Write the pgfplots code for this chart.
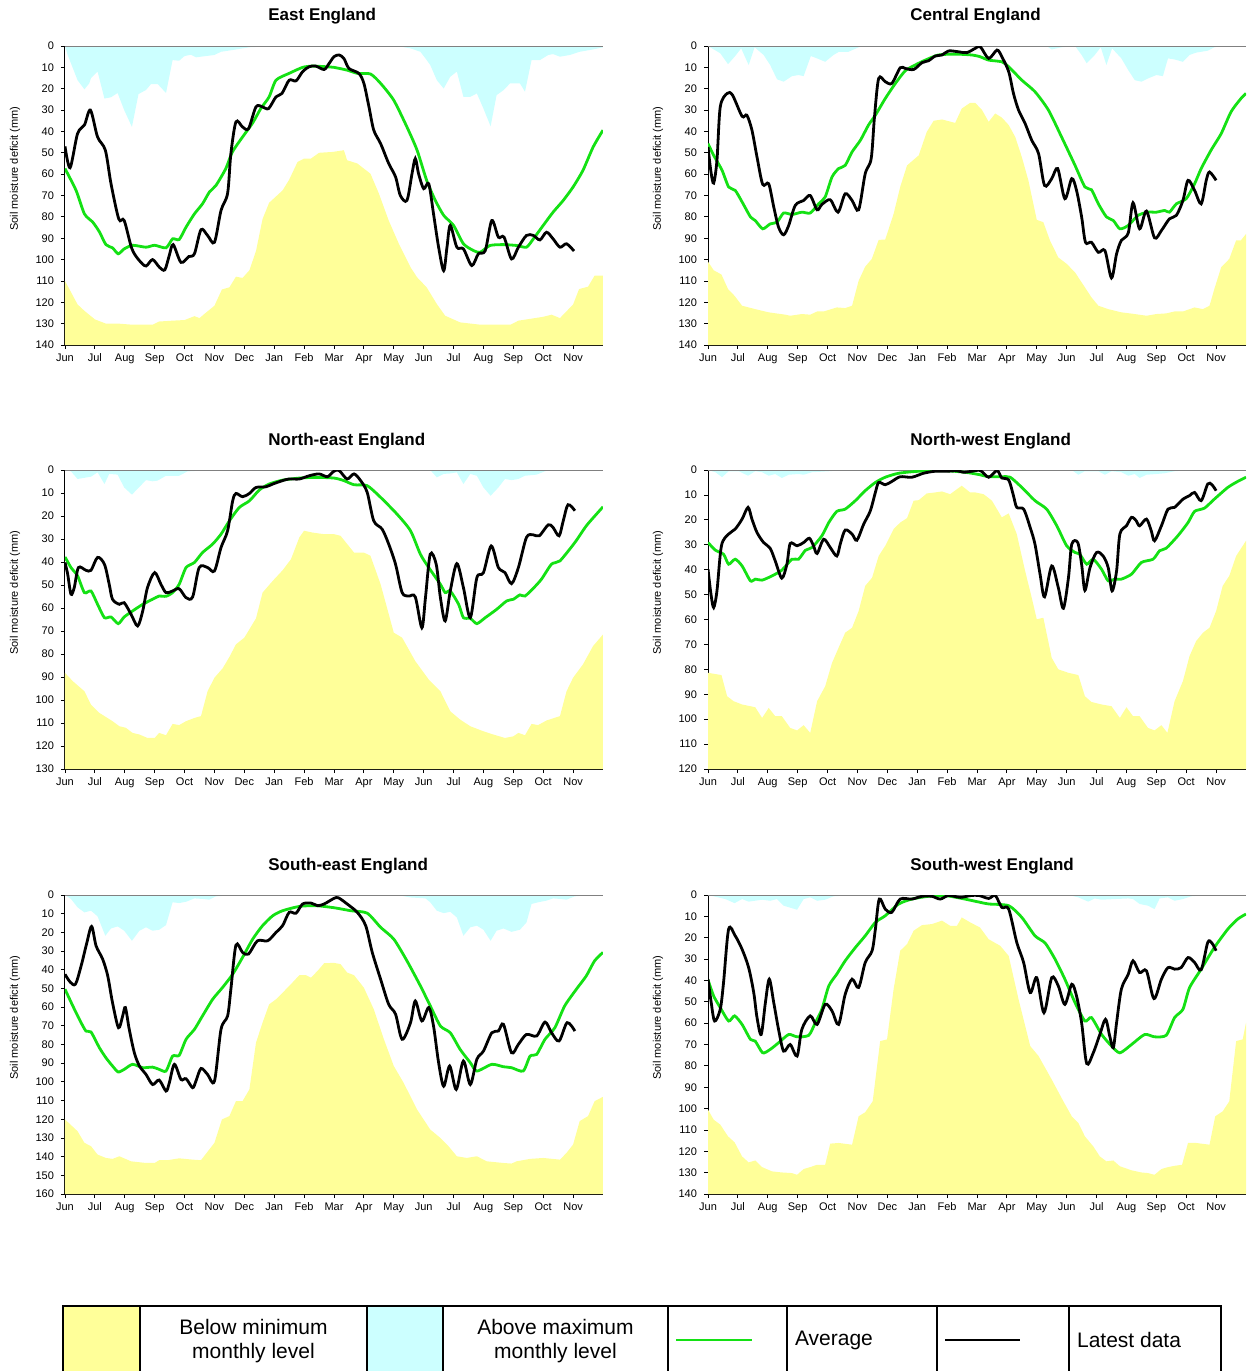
\documentclass[border=0pt]{standalone}
\usepackage{pgfplots}
\pgfplotsset{compat=1.18}
\usepackage{fontspec}
\setmainfont{Liberation Sans}
\setsansfont{Liberation Sans}
\definecolor{ymin}{RGB}{255,255,153}
\definecolor{cmax}{RGB}{204,255,255}
\definecolor{avg}{RGB}{20,225,20}
\pgfplotsset{
  smd/.style={
    scale only axis, width=269pt, height=149.5pt,
    xmin=0, xmax=18, ymin=0, y dir=reverse,
    ytick distance=10,
    xtick={0,...,17},
    xticklabels={Jun,Jul,Aug,Sep,Oct,Nov,Dec,Jan,Feb,Mar,Apr,May,Jun,Jul,Aug,Sep,Oct,Nov},
    axis x line*=bottom, axis y line*=left,
    axis line style={line width=0.5pt},
    tick align=outside, major tick length=2pt,
    tick style={black, line width=0.4pt},
    tick label style={font=\fontsize{5.5}{6}\selectfont},
    xticklabel style={yshift=4.5pt, text height=1.4ex, text depth=0.3ex},
    /pgf/number format/assume math mode=true,
    ylabel={Soil moisture deficit (mm)},
    every axis y label/.style={at={(axis description cs:-0.0929,0.59)}, rotate=90, anchor=center, font=\fontsize{5.5}{6}\selectfont},
    clip=true,
  },
  yel/.style={fill=ymin, draw=none, forget plot},
  cya/.style={fill=cmax, draw=none, forget plot},
  grn/.style={avg, line width=1.4pt, smooth, tension=0.4, no markers},
  blk/.style={black, line width=1.4pt, smooth, tension=0.5, no markers},
}
\newcommand{\ttl}[3]{\node[anchor=west, inner sep=0pt, font=\bfseries\fontsize{8.5}{10}\selectfont] at (#1,#2) {#3};}
\begin{document}
\begin{tikzpicture}
\useasboundingbox (0,0) rectangle (627pt,-685.5pt);

% ---------------- East England
\begin{axis}[smd, at={(32.5pt,-23pt)}, anchor=north west, ymax=140]
\addplot[yel] coordinates {(0,140)(0,110)(0.42,121)(0.65,124)(1.0,128)(1.37,130)(1.8,130)(2.26,130.5)(2.93,130.5)(3.15,129)(3.6,128.6)(4.0,128.3)(4.33,126.5)(4.5,127.4)(4.66,125.5)(5.0,121.6)(5.25,114)(5.5,113)(5.72,108)(5.94,108.6)(6.17,105)(6.39,96)(6.61,81)(6.83,73.4)(7.28,67.6)(7.5,62.6)(7.78,54.3)(8.0,52.7)(8.23,52.7)(8.5,50)(8.95,49.6)(9.33,48.8)(9.44,53.5)(9.78,55)(10.22,59.8)(10.5,69)(10.83,81.7)(11.17,92.6)(11.56,103.6)(11.78,108.3)(12.1,113)(12.44,120.8)(12.72,126.3)(13.22,129.4)(13.9,130.5)(14.9,130.5)(15.17,128.6)(16.0,126.8)(16.28,125.8)(16.56,127.4)(17.0,121)(17.2,113.8)(17.5,112.7)(17.72,107.5)(18,107.5)(18,140)} --cycle;
\addplot[cya] coordinates {(0,0)(0.09,4.2)(0.42,16)(0.65,20.3)(0.81,17.5)(0.87,15)(1.09,12)(1.32,24.6)(1.54,24)(1.76,22)(1.98,30)(2.24,37.9)(2.46,22.5)(2.71,20.6)(2.88,17.8)(3.1,17.8)(3.38,22)(3.6,6.6)(3.82,6.9)(4.0,4.7)(4.21,4.1)(4.38,5.3)(4.72,4.7)(5.0,4.2)(5.22,2.7)(5.6,1.9)(6.17,0.6)(7.06,0)(11.1,0)(11.56,1.1)(11.89,2.7)(12.06,5.8)(12.22,8.9)(12.44,16)(12.67,19.9)(12.89,14.4)(13.11,12)(13.33,23.8)(13.56,23.8)(13.78,22.2)(14.0,29.3)(14.24,37.6)(14.44,23)(14.67,20.7)(14.89,17.5)(15.22,17.5)(15.39,21.4)(15.61,6.6)(15.89,6.6)(16.17,4.2)(16.33,3.8)(16.56,5)(16.89,4.2)(17.22,2.7)(17.67,1.6)(18,0.6)(18,0)} --cycle;
\draw[gray, line width=0.6pt] (axis cs:0,0) -- (axis cs:18,0);
\addplot[grn] coordinates {(0,57.4)(0.37,67.6)(0.65,78.6)(0.93,82.5)(1.15,87)(1.37,93)(1.59,94.5)(1.78,97.3)(1.98,95)(2.26,93.3)(2.71,94.2)(3.0,93.3)(3.38,94.5)(3.6,90.3)(3.82,90.6)(4.05,84.8)(4.33,78.6)(4.6,73.9)(4.83,68.4)(5.05,65.3)(5.38,57.4)(5.6,49.6)(5.94,42.6)(6.28,36)(6.55,29.3)(6.83,23.8)(7.06,16)(7.5,12.8)(7.95,10)(8.28,9.4)(8.73,9.7)(9.0,10)(9.44,11.3)(9.78,12.8)(10.22,13.1)(10.56,17.5)(11.0,25.4)(11.44,37.9)(11.78,48.8)(12.1,62.9)(12.39,72.3)(12.67,79.3)(13.0,84)(13.33,92.6)(13.67,95.8)(13.89,96.6)(14.22,93.4)(14.67,93)(15.11,93.4)(15.44,94.2)(15.67,90.3)(16.0,84)(16.33,77.8)(16.67,72.3)(17.0,66)(17.33,58.2)(17.67,47.3)(18.0,39.4)};
\addplot[blk] coordinates {(0,47)(0.17,57)(0.42,41)(0.65,37)(0.85,30)(1.09,42.6)(1.35,48.8)(1.54,64.5)(1.8,81)(1.98,81.7)(2.24,95)(2.49,100.5)(2.71,103)(2.93,100)(3.16,103.6)(3.34,104.8)(3.49,98)(3.62,93)(3.88,101.3)(4.14,98.6)(4.33,97.3)(4.55,86)(4.77,88.7)(5.0,91.9)(5.22,77)(5.44,69)(5.55,50.4)(5.72,35.5)(5.94,37.9)(6.14,38.7)(6.39,28.5)(6.61,28.5)(6.81,29.3)(7.06,23.8)(7.26,22.2)(7.5,16)(7.73,16.3)(7.95,12)(8.17,9.7)(8.39,9.4)(8.67,11)(8.84,8.1)(9.0,5)(9.17,4.2)(9.33,5.8)(9.5,10.5)(9.83,12.8)(10.0,17.5)(10.17,28.5)(10.33,39.4)(10.56,45.7)(10.83,55)(11.06,61.3)(11.22,70)(11.44,72.3)(11.61,59.8)(11.72,52.7)(11.83,59.8)(12.0,66.8)(12.17,64.5)(12.33,78.6)(12.5,94.2)(12.67,105.2)(12.78,94.2)(12.89,84)(13.11,94.2)(13.33,95)(13.61,102.8)(13.83,97.3)(14.06,95.8)(14.28,81.7)(14.5,89.5)(14.69,89.5)(14.94,99.7)(15.17,94.2)(15.44,88.7)(15.67,88.7)(15.89,90.8)(16.11,87.2)(16.33,90.3)(16.56,94.2)(16.78,92.6)(17.03,96)};
\end{axis}

% ---------------- Central England
\begin{axis}[smd, at={(354pt,-23pt)}, anchor=north west, ymax=140]
\addplot[yel] coordinates {(0,140)(0,101)(0.19,105)(0.45,107)(0.67,113.8)(0.89,117)(1.14,121.6)(1.58,123.2)(2.03,124.7)(2.59,125.8)(2.75,126.3)(3.14,125.5)(3.42,125.8)(3.65,124.3)(3.87,124.3)(4.31,122.4)(4.59,122.7)(4.82,121.6)(5.04,109.9)(5.26,103.3)(5.48,99.7)(5.71,90.8)(5.93,90.6)(6.21,78.6)(6.43,66)(6.66,55.9)(7.05,51.2)(7.32,40.2)(7.55,35)(7.83,34.4)(8.27,36)(8.49,29.3)(8.77,26.6)(8.94,26.6)(9.17,30)(9.39,35.5)(9.61,31.6)(9.83,33.5)(10.06,37)(10.28,42.6)(10.5,52)(10.72,63)(11.0,81.4)(11.22,82.5)(11.44,91)(11.72,99)(12.0,102)(12.28,106)(12.61,113)(12.83,117.7)(13.06,121.6)(13.39,123.2)(13.83,124.7)(14.28,125.5)(14.67,126.3)(15.0,125.5)(15.33,125.2)(15.61,124.3)(15.89,124.3)(16.28,122.4)(16.56,123.2)(16.78,121.6)(16.94,113.8)(17.17,103.6)(17.44,99.7)(17.67,91)(17.83,91)(18,88)(18,140)} --cycle;
\addplot[cya] coordinates {(0,0)(0.41,3.4)(0.67,8.5)(0.91,4.7)(1.11,1.1)(1.36,8.9)(1.56,0.6)(1.86,4.2)(2.08,8.9)(2.31,15.6)(2.53,16.7)(2.81,14.1)(3.03,13.6)(3.2,14.1)(3.44,4.7)(3.65,5.8)(3.92,7.4)(4.2,4.2)(4.37,2.8)(4.7,2.7)(5.04,0.6)(5.26,0)(11.33,0)(11.5,1.6)(11.83,0.6)(12.28,0)(12.5,4.2)(12.67,8.1)(12.94,4.2)(13.14,0.6)(13.33,8.9)(13.52,1.1)(13.83,5.8)(14.06,11.3)(14.28,16)(14.5,16.7)(14.72,15.2)(15.0,13.6)(15.22,14.1)(15.39,5.8)(15.61,6.3)(15.89,7.4)(16.11,4.2)(16.33,3.1)(16.72,2.2)(16.94,0.6)(17.17,0)(18,0)} --cycle;
\draw[gray, line width=0.6pt] (axis cs:0,0) -- (axis cs:18,0);
\addplot[grn] coordinates {(0,45.7)(0.19,51.2)(0.47,58.2)(0.69,66)(0.91,67.6)(1.14,73)(1.42,80)(1.58,81.7)(1.83,85.6)(2.08,83.3)(2.31,82.5)(2.53,78.2)(2.81,78.9)(3.14,77.8)(3.42,78.2)(3.7,73.9)(3.92,70.7)(4.15,61.3)(4.37,57.4)(4.59,55.9)(4.82,49.6)(5.1,44.1)(5.37,37)(5.6,32.4)(5.93,24.6)(6.27,17.5)(6.6,11.6)(6.93,8.9)(7.27,6.6)(7.71,4.2)(8.27,3.8)(8.83,4.2)(9.1,5)(9.39,6.6)(9.83,7.4)(10.06,9.7)(10.5,16)(10.94,21.4)(11.39,30)(11.83,42.6)(12.28,55.9)(12.61,66)(12.83,67.3)(13.06,73.9)(13.33,80)(13.56,81.7)(13.78,85.6)(14.06,84)(14.39,79.3)(14.72,77.8)(15.0,77.8)(15.28,77)(15.44,77.8)(15.67,73.9)(16.0,71.5)(16.28,64.5)(16.5,57.4)(16.83,48.8)(17.17,41)(17.5,30.8)(17.83,24.6)(18,22.2)};
\addplot[blk] coordinates {(0,47.3)(0.1,59)(0.19,64.2)(0.3,53.5)(0.41,28.5)(0.64,22.2)(0.82,23)(1.14,32.9)(1.3,32.4)(1.47,39.4)(1.64,52)(1.83,64.8)(2.03,64.5)(2.2,75.4)(2.36,84.8)(2.53,88.4)(2.7,84)(2.92,74.6)(3.2,72.3)(3.42,70)(3.65,76.7)(3.81,74.2)(4.09,72)(4.35,77.8)(4.59,69.2)(4.82,72.3)(5.04,76.7)(5.26,59.8)(5.46,52.7)(5.57,33.2)(5.71,15.2)(5.93,16.7)(6.15,17.5)(6.43,10.2)(6.6,10.5)(6.88,11)(7.16,7.8)(7.38,6.9)(7.6,4.7)(7.83,4.2)(8.05,2.3)(8.38,2.7)(8.66,3.1)(8.94,1.1)(9.11,0.3)(9.39,5.8)(9.67,1.9)(9.83,5)(10.06,12)(10.22,22.2)(10.39,30)(10.61,36.3)(10.83,44.1)(11.06,50.4)(11.26,65.3)(11.5,62.1)(11.7,57.4)(11.94,71.5)(12.17,62.1)(12.33,67.6)(12.5,80)(12.63,91.9)(12.83,91.9)(13.06,96.6)(13.28,95.8)(13.5,108.6)(13.67,97.3)(13.83,91)(14.06,87.6)(14.22,73.4)(14.44,85.6)(14.67,77.3)(14.94,89.8)(15.17,86.4)(15.44,80.9)(15.67,79.3)(15.89,72.3)(16.06,62.9)(16.28,67.6)(16.5,73.9)(16.67,62.9)(16.78,59)(17.0,62.9)};
\end{axis}

% ---------------- North-east England
\begin{axis}[smd, at={(32.5pt,-235pt)}, anchor=north west, ymax=130]
\addplot[yel] coordinates {(0,130)(0,88.2)(0.26,91.8)(0.65,96.2)(0.87,102)(1.15,105.6)(1.59,109.2)(1.82,111.4)(2.04,112.1)(2.26,114.3)(2.49,115)(2.76,116.5)(3.0,116.5)(3.15,114.3)(3.38,115.3)(3.6,110.4)(3.82,110.9)(4.05,109.2)(4.33,107.8)(4.55,107)(4.77,96.2)(5.0,90.3)(5.27,86.3)(5.5,81.3)(5.72,75.8)(6.0,72.9)(6.39,64.5)(6.61,53.3)(6.95,48.2)(7.28,43.6)(7.56,38.8)(7.84,29.3)(8.0,26.4)(8.28,27.2)(8.67,27.9)(9.0,27.9)(9.22,28.6)(9.67,35.9)(10.0,35.9)(10.22,37.3)(10.56,49.7)(11.0,70.7)(11.28,72.9)(11.72,83.1)(12.17,91.1)(12.56,96.2)(12.89,104.9)(13.22,108.5)(13.56,111.4)(14.0,113.6)(14.33,115)(14.72,116.5)(15.0,115.8)(15.17,114.3)(15.39,115.3)(15.61,110.4)(15.83,110.9)(16.11,108.9)(16.56,107)(16.78,96.2)(17.0,90.3)(17.33,84.5)(17.67,76.5)(18,71.5)(18,130)} --cycle;
\addplot[cya] coordinates {(0,0)(0.2,0.6)(0.42,3.9)(0.87,2.9)(1.09,1)(1.32,6.1)(1.48,1.7)(1.76,2)(1.98,7.6)(2.24,10.7)(2.71,4.4)(2.93,4.9)(3.1,4.6)(3.38,2.5)(3.82,2.5)(4.1,0.6)(4.94,0)(12.22,0)(12.44,3.2)(12.67,1.7)(12.89,1.5)(13.11,1)(13.33,6.1)(13.56,1.7)(13.78,2.5)(14.0,7.6)(14.24,11.2)(14.5,7.6)(14.72,3.9)(14.94,4.4)(15.17,3.9)(15.39,2.5)(15.78,2)(16.11,0.3)(16.44,0)(18,0)} --cycle;
\draw[gray, line width=0.6pt] (axis cs:0,0) -- (axis cs:18,0);
\addplot[grn] coordinates {(0,37.8)(0.2,42.4)(0.42,46)(0.65,53.3)(0.87,52.6)(1.09,58.4)(1.32,64.2)(1.54,63.9)(1.78,66.8)(1.98,63.9)(2.26,61.3)(2.6,58.4)(2.93,56.2)(3.15,54.8)(3.38,54.9)(3.6,53.3)(3.82,49.7)(4.05,42.4)(4.33,40.2)(4.6,35.9)(4.94,32.2)(5.22,27.9)(5.5,22.1)(5.83,16.3)(6.17,13.4)(6.5,8.7)(6.83,6.1)(7.28,4.4)(7.84,3.5)(8.39,3.2)(9.0,3.5)(9.33,4.6)(9.67,6.4)(10.11,6.8)(10.56,11.9)(11.11,19.2)(11.56,26.4)(11.89,36.6)(12.17,42.4)(12.56,49.7)(12.72,53.3)(12.89,52.6)(13.17,58.4)(13.33,64.2)(13.56,64.5)(13.78,66.8)(14.06,64.2)(14.44,60.6)(14.78,56.9)(15.0,56.2)(15.22,54.3)(15.39,54.8)(15.67,51.4)(15.94,47.5)(16.28,40.9)(16.56,39.5)(17.06,31.5)(17.44,24.3)(17.78,19.2)(18,16)};
\addplot[blk] coordinates {(0,40.2)(0.09,45.3)(0.2,54)(0.31,51.1)(0.45,42.4)(0.7,43.6)(0.87,43.6)(1.09,38)(1.32,41)(1.48,49.7)(1.59,56.2)(1.82,58.4)(1.98,57.7)(2.21,62.7)(2.43,67.8)(2.6,61.3)(2.76,51.1)(3.0,44.6)(3.21,49.7)(3.38,53.3)(3.6,52.6)(3.82,51.6)(4.05,55.5)(4.27,55.2)(4.49,42.4)(4.77,42.4)(5.0,43.9)(5.22,33.7)(5.44,26.4)(5.61,13.4)(5.72,10.2)(5.94,11.6)(6.17,10.2)(6.39,7.6)(6.72,7.3)(6.95,6.1)(7.28,4.6)(7.5,3.9)(7.84,3.9)(8.17,2.5)(8.5,1.7)(8.78,2.9)(9.0,0.5)(9.17,0.2)(9.44,3.9)(9.67,1.7)(9.89,4.6)(10.11,9.7)(10.33,22.1)(10.61,25.7)(10.83,32.2)(11.06,41)(11.28,53.3)(11.5,54.8)(11.72,55.2)(11.94,68.6)(12.06,55.5)(12.22,36.6)(12.42,41)(12.56,55.5)(12.72,65.6)(12.89,52.6)(13.11,40.7)(13.33,51.1)(13.56,64.2)(13.78,46.8)(14.0,44.6)(14.26,33)(14.5,42.4)(14.72,44.6)(14.94,49.4)(15.17,42.4)(15.44,29.3)(15.67,28.2)(15.87,28.6)(16.17,23.8)(16.33,25)(16.53,28.6)(16.67,22.1)(16.83,15.1)(17.06,17.7)};
\end{axis}

% ---------------- North-west England
\begin{axis}[smd, at={(354pt,-235pt)}, anchor=north west, ymax=120]
\addplot[yel] coordinates {(0,120)(0,81.4)(0.45,82.3)(0.64,90.8)(0.86,92.8)(1.14,94.1)(1.58,95.2)(1.81,99.5)(2.03,95.5)(2.25,98.8)(2.47,98.8)(2.75,103.5)(2.98,104.5)(3.2,102.4)(3.42,105.5)(3.65,92.8)(3.92,86.8)(4.15,77.4)(4.37,71.3)(4.59,65.3)(4.82,63.3)(5.04,56.6)(5.26,46.5)(5.49,43.2)(5.71,34.5)(5.93,30.4)(6.21,23.7)(6.43,21.1)(6.66,19.3)(6.88,12.3)(7.05,12.1)(7.32,9.4)(7.6,9)(7.83,8.6)(8.1,9.7)(8.49,6.3)(8.77,9)(8.94,9)(9.22,9.7)(9.5,12.3)(9.83,19)(10.06,17.4)(10.33,25.7)(10.61,40.5)(10.83,51.2)(11.0,59.9)(11.22,59.3)(11.5,75.4)(11.72,80)(12.06,81.4)(12.39,82.3)(12.61,90.8)(12.83,93.1)(13.17,94.1)(13.5,94.8)(13.78,99.5)(14.0,95.2)(14.22,98.8)(14.44,98.8)(14.72,103.5)(14.94,104.5)(15.17,102.4)(15.37,105.5)(15.61,92.8)(15.89,84.7)(16.11,74.7)(16.33,68.7)(16.56,65.3)(16.78,63.3)(17.0,56.6)(17.22,46.5)(17.44,42.5)(17.67,34.5)(18,28.4)(18,120)} --cycle;
\addplot[cya] coordinates {(0,0)(0.25,0.9)(0.47,2.9)(0.69,0.5)(1.03,0.5)(1.34,2.3)(1.58,0.5)(1.81,0.9)(2.03,2.3)(2.25,1.6)(2.47,3.2)(2.7,1.9)(3.03,1.6)(3.2,1.9)(3.48,0.9)(4.04,0.5)(4.59,0)(12.17,0)(12.39,1.9)(12.61,0.5)(13.06,0.5)(13.28,1.9)(13.5,0.5)(13.83,0.9)(14.06,2.3)(14.28,1.6)(14.44,3.2)(14.67,1.9)(15.0,1.6)(15.28,1.3)(15.61,0.5)(16.17,0)(18,0)} --cycle;
\draw[gray, line width=0.6pt] (axis cs:0,0) -- (axis cs:18,0);
\addplot[grn] coordinates {(0,29.1)(0.25,32.2)(0.52,33.8)(0.69,37.8)(0.91,35.8)(1.14,38.5)(1.42,44.5)(1.58,43.8)(1.81,44.2)(2.14,42.5)(2.47,40.2)(2.81,35.8)(3.03,35.8)(3.26,32.2)(3.48,31.1)(3.81,26.4)(4.04,21.1)(4.31,16.6)(4.59,15.7)(4.93,12.3)(5.26,8.3)(5.6,5)(5.93,2.9)(6.38,1.3)(7.05,0.5)(7.94,0.3)(8.6,0.9)(9.1,1.9)(9.39,2.7)(9.83,2.7)(10.11,2.9)(10.5,7)(10.94,12.3)(11.33,15.7)(11.67,22.4)(12.0,30.4)(12.28,33.1)(12.44,33.8)(12.67,37.8)(12.89,35.8)(13.17,39.9)(13.39,44.5)(13.61,43.8)(13.83,43.8)(14.17,41.8)(14.5,37.1)(14.89,35.8)(15.11,32.4)(15.33,31.4)(15.72,26.4)(16.06,21.1)(16.28,16.6)(16.61,15.3)(16.94,11.7)(17.39,7)(17.72,4.6)(18,2.9)};
\addplot[blk] coordinates {(0,39.8)(0.1,49.9)(0.19,55.2)(0.3,48.5)(0.45,30.4)(0.69,25.7)(0.91,23.7)(1.14,19.7)(1.34,15)(1.47,19.7)(1.64,25.1)(1.86,29.1)(2.08,31.4)(2.25,36.5)(2.47,43.4)(2.64,37.8)(2.75,29.5)(2.98,30.4)(3.2,29.1)(3.39,27.4)(3.53,30.4)(3.65,33.5)(3.87,27.8)(4.09,31.1)(4.31,34.5)(4.43,29.5)(4.59,24.1)(4.82,25.7)(4.98,28.2)(5.21,21.7)(5.43,16.4)(5.6,9)(5.71,5)(5.93,5.9)(6.15,4.6)(6.43,2.7)(6.82,2.9)(7.21,1.3)(7.6,0.5)(7.99,0.5)(8.33,0.3)(8.55,0.9)(8.83,0.5)(9.11,0.2)(9.39,2.9)(9.67,0.2)(9.83,3.2)(10.06,4)(10.22,10.3)(10.33,15)(10.56,15.7)(10.78,23.1)(10.94,29.8)(11.11,41.8)(11.26,50.9)(11.5,38.5)(11.72,47.2)(11.89,55.5)(12.06,43.2)(12.17,29.8)(12.37,29.1)(12.5,37.8)(12.61,48.3)(12.78,39.2)(13.0,33.1)(13.22,34.5)(13.39,39.2)(13.52,48.5)(13.67,40.5)(13.78,25.7)(14.0,22.4)(14.17,19)(14.33,20.4)(14.44,22.4)(14.67,19.7)(14.83,24.4)(14.94,28.4)(15.17,22.4)(15.39,15.7)(15.61,15)(15.89,11.7)(16.11,10.3)(16.28,9)(16.5,12.3)(16.72,5.6)(16.86,5.9)(17.0,8.3)};
\end{axis}

% ---------------- South-east England
\begin{axis}[smd, at={(32.5pt,-447.5pt)}, anchor=north west, ymax=160]
\addplot[yel] coordinates {(0,160)(0,120.1)(0.42,126.4)(0.65,132.6)(0.87,134.4)(1.09,138.9)(1.37,140.7)(1.59,141.2)(1.82,139.8)(2.21,142.5)(2.71,143.4)(3.0,143.4)(3.15,141.9)(3.43,141.9)(3.82,140.9)(4.27,141.6)(4.55,141.9)(5.0,132.6)(5.25,120.1)(5.5,118.3)(5.72,110.3)(5.94,110.3)(6.17,104)(6.39,79)(6.61,68.3)(6.83,58.5)(7.06,55.8)(7.34,51.3)(7.56,47.7)(7.84,42.9)(8.06,42.9)(8.23,44.2)(8.45,40.6)(8.67,36.5)(9.0,36.3)(9.22,37)(9.44,41.5)(9.67,42.9)(10.0,49.6)(10.33,61.1)(10.67,77.2)(11.0,91.5)(11.33,100.5)(11.78,114.8)(12.22,125.5)(12.56,130)(12.83,134.4)(13.11,139.8)(13.44,140.7)(13.78,139.8)(14.11,142.5)(14.67,143.4)(14.94,143.7)(15.11,142.5)(15.56,141.2)(16.0,140.7)(16.56,141.6)(16.78,138)(17.0,133.5)(17.22,121)(17.5,118.3)(17.72,110.3)(18,108)(18,160)} --cycle;
\addplot[cya] coordinates {(0,0)(0.2,2.1)(0.42,6.6)(0.65,9.3)(0.87,8.4)(1.09,11.4)(1.35,21.8)(1.54,17.9)(1.76,16.8)(1.98,19.1)(2.24,24.5)(2.49,19.1)(2.71,17.3)(2.93,19.1)(3.15,18.6)(3.38,16.1)(3.6,3.9)(3.82,4.3)(4.05,3.6)(4.33,1.8)(4.6,2.1)(4.83,2.5)(5.05,0.7)(5.83,0)(11.11,0)(11.56,1.3)(12.06,1.8)(12.22,3.9)(12.44,8.4)(12.67,9.7)(12.89,9)(13.11,12)(13.33,21.8)(13.56,17.3)(13.78,16.4)(14.0,18.6)(14.24,24.5)(14.44,19.1)(14.67,17.9)(14.94,19.7)(15.22,18.6)(15.44,14.7)(15.61,4.8)(15.83,3.9)(16.11,3)(16.33,1.8)(16.56,2.1)(16.78,2.5)(17.06,0.7)(17.56,0)(18,0)} --cycle;
\draw[gray, line width=0.6pt] (axis cs:0,0) -- (axis cs:18,0);
\addplot[grn] coordinates {(0,50.4)(0.26,59.3)(0.48,66.5)(0.7,72.8)(0.87,73.3)(1.15,81.7)(1.37,87.1)(1.59,91.5)(1.78,94.7)(1.98,93.3)(2.26,90.6)(2.6,92.4)(2.93,92.1)(3.15,93.3)(3.38,94.2)(3.6,86.2)(3.82,85.8)(4.05,77.2)(4.33,71.9)(4.6,64.7)(4.94,55.8)(5.27,49.5)(5.61,42.4)(5.94,33.4)(6.28,23.6)(6.61,16.4)(6.95,11.1)(7.28,8.4)(7.84,6.1)(8.39,5.7)(9.0,6.8)(9.56,8.4)(10.11,9.7)(10.56,17.3)(11.0,23.6)(11.44,35.2)(11.89,48.6)(12.22,59.3)(12.56,70.1)(12.89,73.7)(13.22,82.6)(13.56,89.7)(13.78,94.2)(14.28,90.6)(14.67,91.9)(14.94,92.4)(15.33,94.2)(15.56,86.2)(15.78,85.3)(16.06,77.2)(16.39,71)(16.72,59.3)(17.11,50.4)(17.44,43.3)(17.72,35.2)(18,30.7)};
\addplot[blk] coordinates {(0,42.4)(0.17,46.5)(0.35,47.7)(0.54,37.9)(0.72,26.3)(0.89,16.8)(1.04,27.2)(1.26,34.3)(1.43,43.3)(1.59,57.6)(1.79,71)(1.93,64.7)(2.02,60.2)(2.15,71.9)(2.32,84.4)(2.49,91.5)(2.71,96)(2.93,101.4)(3.15,99)(3.38,104.9)(3.49,100.5)(3.66,90.6)(3.88,98.7)(4.05,98.3)(4.27,103.1)(4.38,99.6)(4.55,92.8)(4.77,96)(5.0,99.6)(5.22,71.9)(5.44,64.7)(5.55,50.4)(5.72,26.8)(5.94,30.7)(6.14,31.6)(6.44,24.5)(6.78,24.5)(7.06,20)(7.28,16.4)(7.5,9.3)(7.73,9.7)(7.95,4.8)(8.23,4.3)(8.45,5.7)(8.67,4.8)(9.0,1.8)(9.15,1.5)(9.44,4.8)(9.78,9.3)(10.06,16.4)(10.28,30.7)(10.56,45.1)(10.83,58.5)(11.06,63.8)(11.28,77.2)(11.56,68.3)(11.72,56.7)(11.94,67.4)(12.17,60.2)(12.33,70.1)(12.5,89.7)(12.67,102.3)(12.87,91.5)(13.09,104)(13.33,88.8)(13.56,101.4)(13.78,87.9)(14.0,83.5)(14.28,73.7)(14.5,72.8)(14.67,69.2)(14.94,84.4)(15.17,79.9)(15.44,74.6)(15.78,75.4)(16.06,68)(16.28,73.7)(16.53,78.1)(16.8,68.3)(17.06,72.8)};
\end{axis}

% ---------------- South-west England
\begin{axis}[smd, at={(354pt,-447.5pt)}, anchor=north west, ymax=140]
\addplot[yel] coordinates {(0,140)(0,100.5)(0.19,105.2)(0.41,107.5)(0.67,113)(0.89,115.8)(1.14,122.4)(1.36,125.2)(1.58,124.3)(1.81,127.4)(2.14,129.4)(2.47,129.9)(2.81,130.2)(2.98,131)(3.2,128.3)(3.42,127.4)(3.65,126.3)(3.92,126.3)(4.09,116.4)(4.37,116.1)(4.82,116.9)(5.04,103.6)(5.26,101.7)(5.51,96.6)(5.76,68.4)(5.99,67.6)(6.21,44.1)(6.43,26.1)(6.66,23)(6.88,16.7)(7.16,14.1)(7.49,13.6)(7.83,12)(8.1,14.4)(8.33,14.4)(8.49,10.5)(8.77,12.8)(9.1,15.2)(9.39,20.7)(9.78,23.8)(10.06,28.5)(10.39,48.8)(10.78,70.7)(11.06,75.4)(11.5,86.4)(11.89,96.6)(12.17,103.6)(12.39,106.7)(12.61,113)(12.89,117.7)(13.11,122.4)(13.33,124.7)(13.56,124.3)(13.78,127)(14.17,128.9)(14.5,129.9)(14.72,130.2)(14.94,131)(15.17,128.3)(15.39,127.4)(15.61,126.8)(15.86,126.3)(16.06,116.1)(16.33,116.1)(16.78,116.9)(16.97,103.6)(17.22,101.3)(17.44,96.6)(17.67,68.4)(17.89,67.6)(18,59.8)(18,140)} --cycle;
\addplot[cya] coordinates {(0,0)(0.58,1.9)(0.89,3.8)(1.14,1.9)(1.36,3.1)(1.81,2.2)(2.08,2.7)(2.31,1.9)(2.53,5)(2.98,6.9)(3.2,1.9)(3.42,1.1)(3.65,2.7)(3.92,2.2)(4.2,0.6)(4.93,0)(12.06,0)(12.39,1.1)(12.72,3.1)(12.94,1.6)(13.17,2.2)(13.61,1.9)(14.06,1.6)(14.22,1.9)(14.44,4.2)(14.72,5)(14.94,6.6)(15.11,1.6)(15.39,1.1)(15.61,2.7)(15.89,1.9)(16.17,0.6)(16.72,0)(18,0)} --cycle;
\draw[gray, line width=0.6pt] (axis cs:0,0) -- (axis cs:18,0);
\addplot[grn] coordinates {(0,39.7)(0.19,47.3)(0.41,52.7)(0.69,59)(0.89,56.6)(1.14,60.6)(1.42,67.6)(1.58,68.4)(1.83,73.9)(2.08,72.3)(2.36,69.2)(2.7,65.3)(2.98,66.4)(3.37,65.7)(3.59,59.8)(3.81,53.5)(4.04,42.6)(4.31,37)(4.59,30.8)(4.93,24.6)(5.26,19.1)(5.6,12.8)(5.93,9.7)(6.38,4.2)(6.82,1.9)(7.38,0.6)(7.94,0.3)(8.49,1.6)(9.1,3.4)(9.39,4.2)(10.06,5)(10.5,10.5)(10.94,19.1)(11.28,22.5)(11.61,30)(11.94,39.4)(12.28,50.4)(12.61,59)(12.83,57.4)(13.17,65.3)(13.5,70.7)(13.78,73.9)(14.17,70)(14.61,65.3)(14.94,66.4)(15.33,65.7)(15.61,57.4)(15.89,53.5)(16.11,43.4)(16.5,34.7)(16.94,24.6)(17.39,16)(17.72,11.3)(18,8.9)};
\addplot[blk] coordinates {(0,39.4)(0.1,49.6)(0.22,59)(0.41,53.5)(0.52,41)(0.69,16)(0.91,19.1)(1.14,25.4)(1.36,34)(1.53,45.7)(1.64,57.4)(1.78,65.3)(1.92,50.4)(2.05,39.4)(2.2,50.4)(2.36,62.9)(2.53,73.1)(2.75,70)(2.98,75.4)(3.14,62.9)(3.42,56.6)(3.65,60.6)(3.92,51.2)(4.15,54.3)(4.37,60.6)(4.59,46.5)(4.82,39.4)(5.04,43.3)(5.26,31.6)(5.49,26.1)(5.6,16)(5.73,1.9)(5.93,6.6)(6.15,8.1)(6.43,1.9)(6.82,1.9)(7.16,0.6)(7.49,0.6)(7.77,1.9)(8.05,0.2)(8.44,1.1)(8.77,0.3)(9.06,0.2)(9.39,1.6)(9.61,0.2)(9.83,5.8)(10.06,6.6)(10.33,22.2)(10.56,31.6)(10.78,45.7)(11.0,38.7)(11.24,55.1)(11.5,38.7)(11.72,42.6)(11.94,51.2)(12.17,41.8)(12.33,47.3)(12.5,59.8)(12.67,78.9)(12.89,73.9)(13.11,65.3)(13.3,58.2)(13.44,66)(13.56,71.5)(13.67,59.8)(13.83,44.1)(14.06,37.1)(14.22,30.8)(14.44,36.3)(14.67,35.5)(14.92,48.5)(15.17,39.4)(15.39,34)(15.61,34.7)(15.83,34)(16.06,29.3)(16.28,31.6)(16.5,35)(16.72,22.2)(16.86,22.5)(17.0,26.1)};
\end{axis}

% titles
\ttl{134pt}{-8pt}{East England}
\ttl{455pt}{-8pt}{Central England}
\ttl{134pt}{-220.5pt}{North-east England}
\ttl{455pt}{-220.5pt}{North-west England}
\ttl{134pt}{-433pt}{South-east England}
\ttl{455pt}{-433pt}{South-west England}

% legend table
\fill[ymin] (31.5pt,-653pt) rectangle (70pt,-687pt);
\fill[cmax] (183.5pt,-653pt) rectangle (221.5pt,-687pt);
\draw[line width=0.75pt] (31.5pt,-653pt) rectangle (610.5pt,-687pt);
\foreach \xx in {70,183.5,221.5,334,393.5,468.5,534.5}
  \draw[line width=0.75pt] (\xx pt,-653pt) -- (\xx pt,-687pt);
\node[align=center, font=\fontsize{10.5}{12}\selectfont] at (126.75pt,-670.5pt) {Below minimum\\monthly level};
\node[align=center, font=\fontsize{10.5}{12}\selectfont] at (277.75pt,-670.5pt) {Above maximum\\monthly level};
\draw[avg, line width=1.4pt] (338pt,-670pt) -- (376pt,-670pt);
\node[anchor=west, font=\fontsize{10.5}{12}\selectfont] at (394pt,-670pt) {Average};
\draw[black, line width=1.4pt] (472.5pt,-670pt) -- (510pt,-670pt);
\node[anchor=west, font=\fontsize{10.5}{12}\selectfont] at (535pt,-670pt) {Latest data};
\end{tikzpicture}
\end{document}
